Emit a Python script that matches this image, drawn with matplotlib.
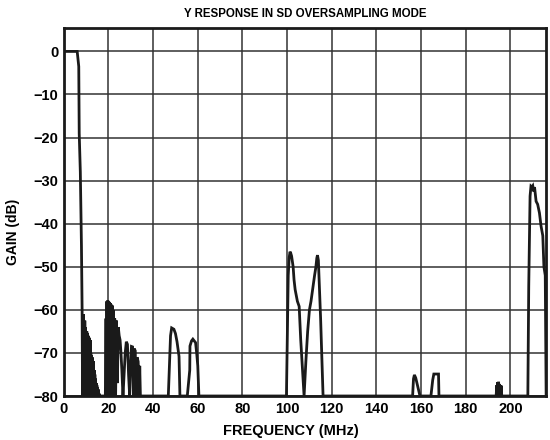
import numpy as np
import matplotlib
matplotlib.use("Agg")
import matplotlib.pyplot as plt

plt.rcParams["font.family"] = ["Liberation Sans", "DejaVu Sans"]
plt.rcParams["font.weight"] = "bold"
plt.rcParams["axes.unicode_minus"] = True

# passband edge and the dense lobes below 17 MHz
f_pass = [0, 6.0, 6.3, 6.7, 6.9, 7.4, 7.9, 8.2, 8.4, 8.5, 8.7, 8.8, 9.0, 9.1, 9.3, 9.4,
          9.6, 9.7, 9.9, 10.0, 10.2, 10.3, 10.5, 10.6, 10.8, 10.9, 11.1, 11.2, 11.4, 11.5,
          11.7, 11.8, 12.0, 12.1, 12.3, 12.4, 12.6, 12.7, 12.9, 13.0, 13.2, 13.3, 13.5,
          13.6, 13.8, 13.9, 14.1, 14.2, 14.4, 14.5, 14.7, 14.8, 15.0, 15.1, 15.3, 15.5,
          15.7, 15.9, 16.2]
g_pass = [0, 0, -1.5, -3.5, -19, -28, -45, -60, -80, -61, -80, -61, -78, -63, -80, -62.5,
          -79, -64, -80, -65, -78, -65, -80, -65.5, -79, -66, -80, -66.5, -78, -66.5,
          -80, -67, -79, -70, -80, -70.5, -78, -71, -80, -72, -79, -72, -80,
          -74, -79, -75, -80, -76, -79, -77, -80, -77.5, -79, -78, -80, -78.5,
          -80, -79.5, -80]

# lobes 18 - 35 MHz
f_lobe2 = [18.6, 18.9, 19.1, 19.3, 19.5, 19.7, 19.9, 20.1, 20.3, 20.5, 20.7, 20.9, 21.1,
           21.3, 21.5, 21.7, 21.9, 22.1, 22.4, 22.8, 23.2, 23.6, 24.0, 24.4, 24.8,
           25.2, 25.6, 26.0]
g_lobe2 = [-80, -62, -80, -58, -79, -57.8, -78, -58, -80, -58.2, -76, -58.5, -80,
           -58.8, -78, -59, -80, -60, -79, -62, -80, -62.5, -77, -64, -66,
           -67, -70, -74]
f_lobe3 = [26.5, 27.5, 28.0, 28.5, 29.0, 29.5, 30.0, 30.3, 30.8, 31.2, 31.5, 32.0, 32.4,
           32.8, 33.3, 33.8, 34.0, 34.3]
g_lobe3 = [-80, -70, -67.4, -68, -75, -80, -72, -68.5, -68.6, -80, -69, -69.5, -80,
           -71, -72, -80, -73, -80]

f_lobe4 = [46.8, 47.8, 48.3, 49.3, 50.0, 50.7, 51.6, 52.0]
g_lobe4 = [-80, -66, -64.2, -64.5, -65.5, -67.4, -70.8, -80]
f_lobe5 = [55.3, 56.4, 56.5, 57.2, 57.8, 59.0, 59.5, 60.0, 60.5]
g_lobe5 = [-80, -74, -68.4, -67.2, -66.8, -67.6, -70, -73, -80]

f_image = [99.7, 100.5, 100.9, 101.3, 101.6, 102.0, 102.7, 103.1, 103.6, 104.6, 105.4,
           106.1, 107.0, 107.6, 108.4, 109.2, 110.0, 110.7, 111.5, 112.3, 112.9, 113.3,
           113.6, 114.0, 115.0, 116.1]
g_image = [-80, -52, -48, -46.5, -46.8, -47.5, -50, -53, -55.3, -58, -59.2,
           -67, -75, -80, -72, -65, -60, -58, -55, -52, -50, -48,
           -47.3, -48.5, -62, -80]

f_lobe7 = [156.2, 156.6, 157.0, 157.6, 158.5, 159.5]
g_lobe7 = [-80, -76, -75.1, -75.8, -77.8, -80]
f_lobe8 = [164.4, 165.2, 165.7, 167.8, 168.0]
g_lobe8 = [-80, -76.3, -74.9, -74.9, -80]
f_lobe9 = [193.6, 193.9, 194.1, 194.3, 194.5, 194.7, 194.9, 195.1, 195.3, 195.5, 195.7,
           195.9, 196.1, 196.3]
g_lobe9 = [-80, -77.5, -80, -76.8, -80, -76.7, -80, -77.2, -80, -77.6, -80,
           -77.6, -80, -80]

f_image2 = [207.8, 208.2, 208.8, 209.2, 209.6, 210.0, 210.4, 210.8, 211.5, 212.2, 213.0,
            213.7, 214.5, 215.0, 215.6, 216.0]
g_image2 = [-80, -54.6, -33.6, -31.3, -31.5, -31.2, -32.5, -31.5, -34.8, -35.5, -37.5,
            -40.5, -42.8, -50, -52, -80]

freq = np.concatenate([f_pass, f_lobe2, f_lobe3, f_lobe4, f_lobe5, f_image,
                       f_lobe7, f_lobe8, f_lobe9, f_image2])
gain = np.concatenate([g_pass, g_lobe2, g_lobe3, g_lobe4, g_lobe5, g_image,
                       g_lobe7, g_lobe8, g_lobe9, g_image2])

fig = plt.figure(figsize=(5.5, 4.4), dpi=100)
ax = fig.add_axes([0.116, 0.1, 0.877, 0.836])

ax.plot(freq, gain, color="#1a1a1a", linewidth=2.0, solid_joinstyle="miter")

ax.set_xlim(0, 216)
ax.set_ylim(-80, 5.4)
ax.set_xticks(np.arange(0, 201, 20))
ax.set_yticks(np.arange(-80, 1, 10))
ax.grid(True, color="#333333", linewidth=1.1)
ax.set_axisbelow(True)
for s in ax.spines.values():
    s.set_linewidth(2.0)
    s.set_color("#1a1a1a")
ax.tick_params(length=0, labelsize=10.5, pad=4)
for lab in ax.get_xticklabels() + ax.get_yticklabels():
    lab.set_fontweight("bold")

ax.set_title("Y RESPONSE IN SD OVERSAMPLING MODE", fontsize=8.3, fontweight="bold", pad=8)
ax.set_xlabel("FREQUENCY (MHz)", fontsize=10.5, fontweight="bold")
ax.set_ylabel("GAIN (dB)", fontsize=10, fontweight="bold")
ax.xaxis.set_label_coords(0.47, -0.075)
ax.yaxis.set_label_coords(-0.09, 0.446)

plt.savefig("out.png", dpi=100)
